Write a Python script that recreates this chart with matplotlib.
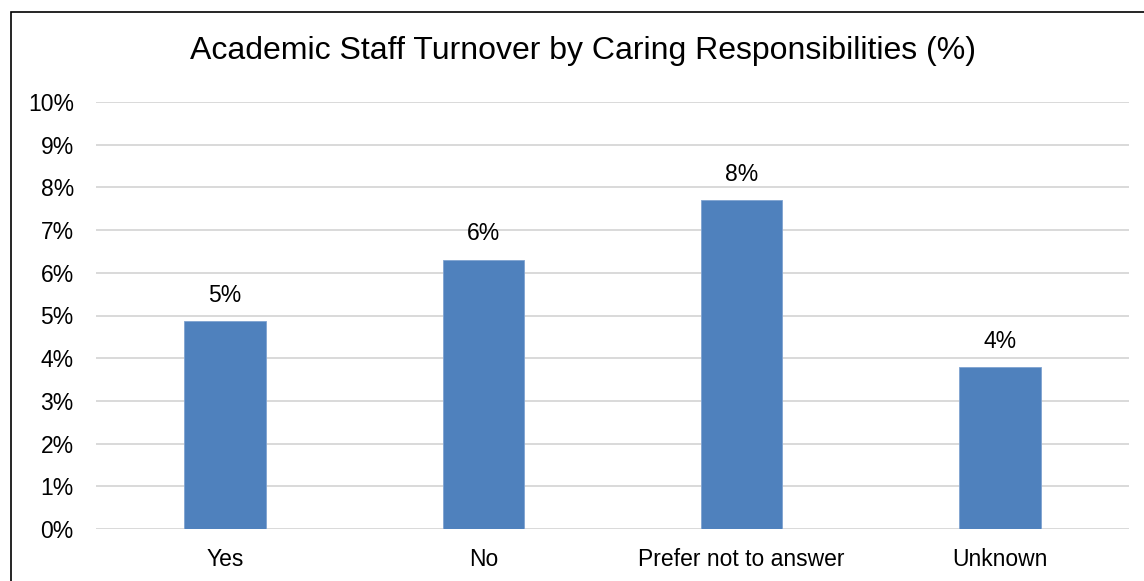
import matplotlib
matplotlib.use("Agg")
import matplotlib.pyplot as plt
from matplotlib.patches import Rectangle

plt.rcParams['font.family'] = ['Liberation Sans', 'DejaVu Sans']

categories = ["Yes", "No", "Prefer not to answer", "Unknown"]
turnover_pct = [4.86, 6.30, 7.70, 3.79]
y_ticks = list(range(0, 11))
y_tick_labels = [f"{v}%" for v in y_ticks]

W, H = 1144, 581
fig = plt.figure(figsize=(W / 100, H / 100), dpi=100)
ax = fig.add_axes([96 / W, 1 - 529 / H, (1129 - 96) / W, (529 - 102) / H])

x = range(len(categories))
bars = ax.bar(x, turnover_pct, width=0.315, color="#4F81BD",
              edgecolor="#7FA3D1", linewidth=0.6, zorder=3)

for b, v in zip(bars, turnover_pct):
    ax.annotate(f"{round(v):.0f}%", (b.get_x() + b.get_width() / 2, v),
                xytext=(0, 10.5), textcoords="offset points",
                ha="center", va="bottom", fontsize=16.5, color="#000000")

ax.set_xlim(-0.5, len(categories) - 0.5)
ax.set_ylim(0, 10)
ax.set_yticks(y_ticks)
ax.set_yticklabels(y_tick_labels)
ax.set_xticks(list(x))
ax.set_xticklabels(categories)
ax.tick_params(axis="y", length=0, pad=16, labelsize=16.5, labelcolor="#000000")
ax.tick_params(axis="x", length=0, pad=14, labelsize=16.5, labelcolor="#000000")
ax.yaxis.grid(True, color="#D9D9D9", linewidth=1.4, zorder=0)
ax.set_axisbelow(True)
for s in ax.spines.values():
    s.set_visible(False)

fig.text(583 / W, 1 - 51 / H, "Academic Staff Turnover by Caring Responsibilities (%)",
         ha="center", va="center", fontsize=23, color="#000000")

fig.add_artist(Rectangle((10.5 / W, -0.1), 1.2, 1 - 12.5 / H + 0.1,
                         transform=fig.transFigure, fill=False,
                         edgecolor="black", linewidth=1.2, clip_on=False))

fig.savefig("out.png", dpi=100)
